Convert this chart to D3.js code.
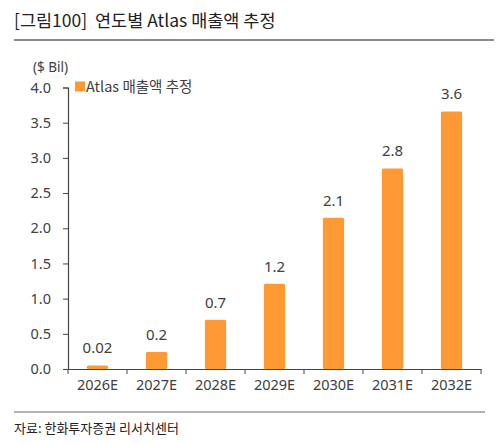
<!DOCTYPE html>
<html>
<head>
<meta charset="utf-8">
<script src="https://cdn.jsdelivr.net/npm/d3@7"></script>
<style>
  body { margin: 0; background: #fff; }
  text { font-family: "Noto Sans CJK KR", "Noto Sans", sans-serif; fill: #404040; }
</style>
</head>
<body>
<div id="chart"></div>
<script>
// data
const years = ['2026E', '2027E', '2028E', '2029E', '2030E', '2031E', '2032E'];
const revenue = [0.05, 0.24, 0.70, 1.21, 2.15, 2.85, 3.66];
const revenueLabels = ['0.02', '0.2', '0.7', '1.2', '2.1', '2.8', '3.6'];
const yTicks = [0, 0.5, 1.0, 1.5, 2.0, 2.5, 3.0, 3.5, 4.0];

const W = 500, H = 445;
const barColor = '#FF9933';

const svg = d3.select('#chart').append('svg')
    .attr('width', W)
    .attr('height', H);

// title + rule
svg.append('text')
    .attr('x', 14).attr('y', 27)
    .attr('font-size', '17.5px')
    .style('fill', '#222')
    .style('white-space', 'pre')
    .text('[그림100]  연도별 Atlas 매출액 추정');
svg.append('line')
    .attr('x1', 14).attr('x2', 494)
    .attr('y1', 40).attr('y2', 40)
    .attr('stroke', '#666').attr('stroke-width', 1.5);

const x = d3.scaleBand().domain(years).range([68, 481]).paddingInner(0.64).paddingOuter(0.32);
const y = d3.scaleLinear().domain([0, 4]).range([369, 87.5]);

// y axis
const yAxis = svg.append('g')
    .attr('transform', 'translate(68,0)')
    .call(d3.axisLeft(y).tickValues(yTicks).tickFormat(d3.format('.1f')).tickSize(5).tickPadding(12));
yAxis.select('.domain').attr('stroke', '#444').attr('stroke-width', 1.2);
yAxis.selectAll('.tick line').attr('stroke', '#444');
yAxis.selectAll('.tick text').attr('font-size', '14.5px').style('font-family', '"Noto Sans", sans-serif');

// x axis, ticks between categories
const xAxis = svg.append('g')
    .attr('transform', 'translate(0,369)')
    .call(d3.axisBottom(x).tickSize(0).tickPadding(11));
xAxis.select('.domain').attr('stroke', '#444').attr('stroke-width', 1.2);
xAxis.selectAll('.tick text').attr('font-size', '14.5px').style('font-family', '"Noto Sans", sans-serif');
const step = x.step();
svg.append('g').selectAll('line')
    .data(d3.range(years.length + 1))
    .enter().append('line')
    .attr('x1', i => 68 + i * step).attr('x2', i => 68 + i * step)
    .attr('y1', 369).attr('y2', 374)
    .attr('stroke', '#444');

// bars
svg.append('g').selectAll('rect')
    .data(revenue)
    .enter().append('rect')
    .attr('x', (d, i) => x(years[i]))
    .attr('y', d => y(d))
    .attr('width', x.bandwidth())
    .attr('height', d => y(0) - y(d))
    .attr('rx', 1.5)
    .attr('fill', barColor);

// value labels
svg.append('g').selectAll('text')
    .data(revenue)
    .enter().append('text')
    .attr('x', (d, i) => x(years[i]) + x.bandwidth() / 2)
    .attr('y', d => y(d) - 12)
    .attr('text-anchor', 'middle')
    .attr('font-size', '15px')
    .style('font-family', '"Noto Sans", sans-serif')
    .text((d, i) => revenueLabels[i]);

// unit + legend
svg.append('text')
    .attr('x', 33).attr('y', 72)
    .attr('font-size', '13.5px')
    .style('font-family', '"Noto Sans", sans-serif')
    .text('($ Bil)');
svg.append('rect')
    .attr('x', 75).attr('y', 81.5)
    .attr('width', 10).attr('height', 10)
    .attr('fill', barColor);
svg.append('text')
    .attr('x', 86).attr('y', 92)
    .attr('font-size', '14.5px')
    .text('Atlas 매출액 추정');

// source
svg.append('line')
    .attr('x1', 14).attr('x2', 485)
    .attr('y1', 412).attr('y2', 412)
    .attr('stroke', '#666').attr('stroke-width', 1);
svg.append('text')
    .attr('x', 14).attr('y', 433)
    .attr('font-size', '13px')
    .style('fill', '#222')
    .text('자료: 한화투자증권 리서치센터');
</script>
</body>
</html>
